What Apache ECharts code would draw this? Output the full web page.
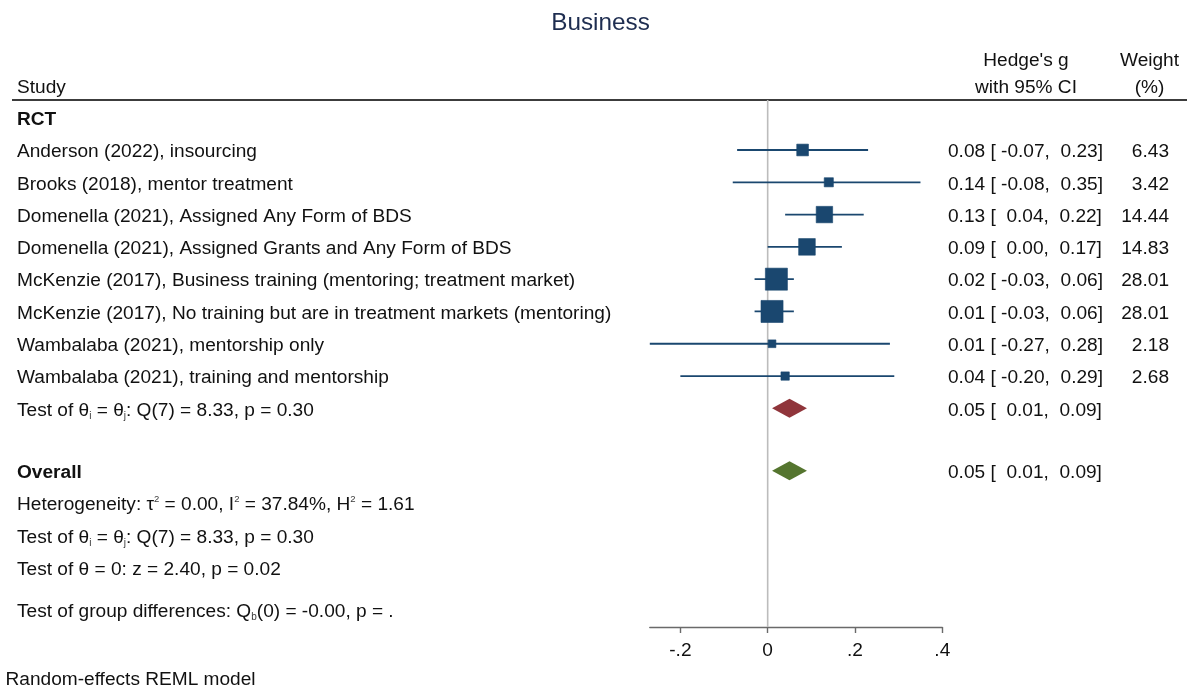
<!DOCTYPE html>
<html>
<head>
<meta charset="utf-8">
<title>Business</title>
<script src="https://cdn.jsdelivr.net/npm/echarts@6/dist/echarts.min.js"></script>
<style>
  html, body { margin: 0; padding: 0; background: #ffffff; }
  #chart { width: 1187px; height: 688px; }
</style>
</head>
<body>
<div id="chart"></div>
<script>
// ---- Study-level results (Hedge's g, 95% CI, weight %) ----
const studies = [
  'Anderson (2022), insourcing',
  'Brooks (2018), mentor treatment',
  'Domenella (2021), Assigned Any Form of BDS',
  'Domenella (2021), Assigned Grants and Any Form of BDS',
  'McKenzie (2017), Business training (mentoring; treatment market)',
  'McKenzie (2017), No training but are in treatment markets (mentoring)',
  'Wambalaba (2021), mentorship only',
  'Wambalaba (2021), training and mentorship'
];
const effects = [0.08, 0.14, 0.13, 0.09, 0.02, 0.01, 0.01, 0.04];
const ciLow   = [-0.07, -0.08, 0.04, 0.00, -0.03, -0.03, -0.27, -0.20];
const ciHigh  = [0.23, 0.35, 0.22, 0.17, 0.06, 0.06, 0.28, 0.29];
const weights = [6.43, 3.42, 14.44, 14.83, 28.01, 28.01, 2.18, 2.68];

// ---- Pooled estimates: [effect, lower, upper] ----
const subgroupLabel = 'RCT';
const subgroupPooled = [0.05, 0.01, 0.09];
const overallPooled  = [0.05, 0.01, 0.09];

// ---- Summary statistics ----
const heterogeneityStats = ['0.00', '37.84%', '1.61'];   // tau^2, I^2, H^2
const homogeneityTest    = [7, '8.33', '0.30'];          // df, Q, p
const zeroEffectTest     = ['2.40', '0.02'];             // z, p
const groupDiffTest      = [0, '-0.00', '.'];            // df, Qb, p

// ---- Axis ticks ----
const tickValues = [-0.2, 0, 0.2, 0.4];
const tickLabels = ['-.2', '0', '.2', '.4'];

// ---- Styling ----
const FONT = '"Liberation Sans", Arial, Helvetica, sans-serif';
const FS = 19.1;
const TEXT = '#111111';
const NAVY = '#1a476f';
const MAROON = '#90353b';
const GREEN = '#55752f';
const TEXT_DY = 2;   // canvas 'middle' sits a little high for this face

// row layout (in row units, top to bottom)
const ROW_SUBGROUP = studies.length + 1;
const ROW_OVERALL = 10.93;
const ROW_HET = 11.93;
const ROW_Q = 12.93;
const ROW_Z = 13.93;
const ROW_GROUP = 15.23;
const Y_MIN = -0.548;
const Y_MAX = 15.77;

const fmt = v => v.toFixed(2);
const padCI = v => (v < 0 ? ' ' : '  ') + fmt(v);
const ciText = (e, lo, hi) => fmt(e) + ' [' + padCI(lo) + ',' + padCI(hi) + ']';

const chart = echarts.init(document.getElementById('chart'), null, { renderer: 'canvas' });

const xMin = Math.min.apply(null, ciLow);
const xMax = tickValues[tickValues.length - 1];

chart.setOption({
  animation: false,
  backgroundColor: '#ffffff',
  grid: { left: 649.8, right: 244.7, top: 100, bottom: 61, containLabel: false },
  xAxis: {
    type: 'value',
    min: xMin,
    max: xMax,
    splitLine: { show: false },
    axisLine: { show: true, onZero: false, lineStyle: { color: '#6a6a6a', width: 1.4 } },
    axisTick: { show: true, length: 6, customValues: tickValues, lineStyle: { color: '#6a6a6a', width: 1.4 } },
    axisLabel: {
      customValues: tickValues,
      margin: 14,
      fontFamily: FONT,
      fontSize: FS,
      color: TEXT,
      formatter: v => {
        const i = tickValues.findIndex(t => Math.abs(t - v) < 1e-9);
        return i >= 0 ? tickLabels[i] : '';
      }
    }
  },
  yAxis: {
    type: 'value',
    inverse: true,
    min: Y_MIN,
    max: Y_MAX,
    show: false,
    splitLine: { show: false }
  },
  series: [
    {
      // reference line at no effect
      type: 'line',
      silent: true,
      z: 1,
      symbol: 'none',
      data: [[0, Y_MIN], [0, Y_MAX]],
      lineStyle: { color: '#bcbcbc', width: 1.6 }
    },
    {
      // study estimates: CI whisker + weight-scaled square
      type: 'custom',
      z: 3,
      silent: true,
      data: studies.map((s, i) => [ciLow[i], ciHigh[i], effects[i], i + 1, weights[i]]),
      encode: { x: [0, 1, 2], y: 3 },
      renderItem: (params, api) => {
        const row = api.value(3);
        const lo = api.coord([api.value(0), row]);
        const hi = api.coord([api.value(1), row]);
        const c = api.coord([api.value(2), row]);
        const s = 2.2 + 3.75 * Math.sqrt(api.value(4));
        return {
          type: 'group',
          children: [
            { type: 'line', shape: { x1: lo[0], y1: lo[1], x2: hi[0], y2: hi[1] },
              style: { stroke: NAVY, lineWidth: 1.8 } },
            { type: 'rect', shape: { x: c[0] - s / 2, y: c[1] - s / 2, width: s, height: s },
              style: { fill: NAVY, stroke: NAVY, lineWidth: 0.6 } }
          ]
        };
      }
    },
    {
      // pooled estimates as diamonds
      type: 'custom',
      z: 3,
      silent: true,
      data: [
        [subgroupPooled[1], subgroupPooled[2], subgroupPooled[0], ROW_SUBGROUP, 0],
        [overallPooled[1], overallPooled[2], overallPooled[0], ROW_OVERALL, 1]
      ],
      encode: { x: [0, 1, 2], y: 3 },
      renderItem: (params, api) => {
        const row = api.value(3);
        const lo = api.coord([api.value(0), row]);
        const hi = api.coord([api.value(1), row]);
        const c = api.coord([api.value(2), row]);
        const h = 9.5;
        return {
          type: 'polygon',
          shape: { points: [[lo[0], lo[1]], [c[0], c[1] - h], [hi[0], hi[1]], [c[0], c[1] + h]] },
          style: { fill: api.value(4) === 0 ? MAROON : GREEN }
        };
      }
    }
  ]
});

// ---- Text columns placed on the same row scale ----
const py = row => chart.convertToPixel({ yAxisIndex: 0 }, row);

const base = { fontFamily: FONT, fontSize: FS, fill: TEXT };
const rich = {
  sub: { fontFamily: FONT, fontSize: 10, fill: '#3a3a3a', verticalAlign: 'bottom', lineHeight: 19 },
  sup: { fontFamily: FONT, fontSize: 9.5, fill: '#3a3a3a', verticalAlign: 'top', lineHeight: 12 }
};

function txt(x, y, text, opts) {
  return {
    type: 'text',
    x: x,
    y: y + TEXT_DY,
    silent: true,
    style: Object.assign({
      text: text,
      align: 'left',
      verticalAlign: 'middle',
      lineHeight: 22,
      rich: rich
    }, base, opts || {})
  };
}

const LX = 17;
const CIX = 948;
const WX = 1169;

const graphics = [];
graphics.push(txt(600.5, 21, 'Business', { align: 'center', fontSize: 24.3, fill: '#1e2d50' }));
graphics.push(txt(1026, 59, "Hedge's g", { align: 'center' }));
graphics.push(txt(1026, 86, 'with 95% CI', { align: 'center' }));
graphics.push(txt(1149.5, 59, 'Weight', { align: 'center' }));
graphics.push(txt(1149.5, 86, '(%)', { align: 'center' }));
graphics.push(txt(LX, 86, 'Study'));
graphics.push({
  type: 'line', silent: true,
  shape: { x1: 12, y1: 100, x2: 1187, y2: 100 },
  style: { stroke: '#3c3c3c', lineWidth: 2 }
});

graphics.push(txt(LX, py(0), subgroupLabel, { fontWeight: 'bold' }));
studies.forEach((s, i) => {
  const y = py(i + 1);
  graphics.push(txt(LX, y, s));
  graphics.push(txt(CIX, y, ciText(effects[i], ciLow[i], ciHigh[i])));
  graphics.push(txt(WX, y, weights[i].toFixed(2), { align: 'right' }));
});

const qLine = 'Test of \u03b8{sub|i} = \u03b8{sub|j}: Q(' + homogeneityTest[0] + ') = ' +
  homogeneityTest[1] + ', p = ' + homogeneityTest[2];

graphics.push(txt(LX, py(ROW_SUBGROUP), qLine));
graphics.push(txt(CIX, py(ROW_SUBGROUP), ciText(subgroupPooled[0], subgroupPooled[1], subgroupPooled[2])));

graphics.push(txt(LX, py(ROW_OVERALL), 'Overall', { fontWeight: 'bold' }));
graphics.push(txt(CIX, py(ROW_OVERALL), ciText(overallPooled[0], overallPooled[1], overallPooled[2])));

graphics.push(txt(LX, py(ROW_HET),
  'Heterogeneity: \u03c4{sup|2} = ' + heterogeneityStats[0] + ', I{sup|2} = ' + heterogeneityStats[1] +
  ', H{sup|2} = ' + heterogeneityStats[2]));
graphics.push(txt(LX, py(ROW_Q), qLine));
graphics.push(txt(LX, py(ROW_Z), 'Test of \u03b8 = 0: z = ' + zeroEffectTest[0] + ', p = ' + zeroEffectTest[1]));
graphics.push(txt(LX, py(ROW_GROUP),
  'Test of group differences: Q{sub|b}(' + groupDiffTest[0] + ') = ' + groupDiffTest[1] + ', p = ' + groupDiffTest[2]));

graphics.push(txt(5.5, 678, 'Random-effects REML model'));

chart.setOption({ graphic: { elements: graphics } });
</script>
</body>
</html>
